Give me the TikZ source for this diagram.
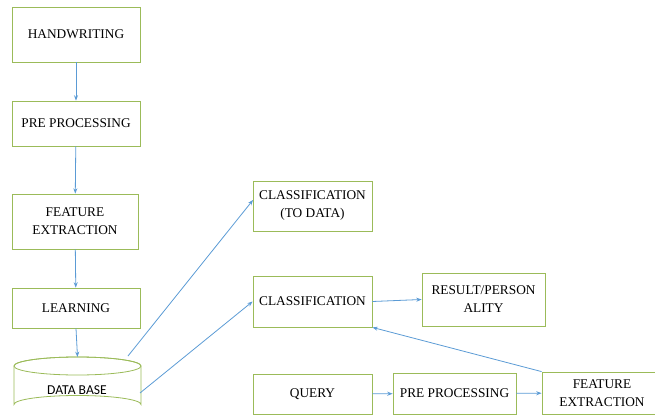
\documentclass[tikz,border=0pt]{standalone}
\usepackage{fontspec}
\setmainfont{Liberation Serif}
\newfontfamily\dbfont{Carlito}
\usetikzlibrary{arrows.meta,calc}
\definecolor{boxgreen}{RGB}{155,187,89}
\definecolor{flowblue}{RGB}{91,155,213}
\begin{document}
\begin{tikzpicture}[x=0.75pt,y=-0.75pt,
  stagebox/.style={draw=boxgreen,line width=0.6pt,fill=white,align=center,
    font=\fontsize{10}{13.5}\selectfont,inner sep=0pt},
  flow/.style={draw=flowblue,line width=0.6pt,-{Stealth[length=4pt,width=3pt]}}]
\useasboundingbox (0,0) rectangle (655,416);
\clip (0,0) rectangle (655,416);

% training pipeline (left column)
\node[stagebox,minimum width=128*0.75pt,minimum height=55*0.75pt] (hw) at (76,34.5) {HANDWRITING};
\node[stagebox,minimum width=128*0.75pt,minimum height=45*0.75pt] (pre) at (76,123.5) {PRE PROCESSING};
\node[stagebox,minimum width=126*0.75pt,minimum height=55*0.75pt] (fe) at (75,221.5) {FEATURE\\EXTRACTION};
\node[stagebox,minimum width=128*0.75pt,minimum height=40*0.75pt] (learn) at (76,308) {LEARNING};

% database cylinder
\node[inner sep=0pt,minimum width=127*0.75pt,minimum height=57*0.75pt] (db) at (77.5,385.5) {};
\draw[boxgreen,line width=0.6pt,fill=white]
  (14,366) -- (14,404.5) arc[start angle=180,end angle=360,x radius=63.5,y radius=9]
  -- (141,366) arc[start angle=0,end angle=-180,x radius=63.5,y radius=9];
\draw[boxgreen,line width=0.6pt] (77.5,366) ellipse[x radius=63.5,y radius=9];
\node[font=\dbfont\fontsize{10.2}{12}\selectfont] (dblabel) at (77,390) {DATA BASE};
\coordinate (dbtop) at (77.5,357);
\coordinate (dbrim) at (128,356);
\coordinate (dbside) at (140,393);

% classification and query side
\node[stagebox,minimum width=119*0.75pt,minimum height=50*0.75pt] (cls1) at (312.5,206) {CLASSIFICATION\\(TO DATA)};
\node[stagebox,minimum width=119*0.75pt,minimum height=51*0.75pt] (cls2) at (312.5,301.5) {CLASSIFICATION};
\node[stagebox,minimum width=123*0.75pt,minimum height=53*0.75pt] (res) at (483.5,299.5) {RESULT/PERSON\\ALITY};
\node[stagebox,minimum width=119*0.75pt,minimum height=40*0.75pt] (query) at (312.5,394) {QUERY};
\node[stagebox,minimum width=123*0.75pt,minimum height=41*0.75pt] (pre2) at (454.5,393.5) {PRE PROCESSING};
\node[stagebox,minimum width=120*0.75pt,minimum height=42*0.75pt] (fe2) at (602,393) {FEATURE\\EXTRACTION};

\coordinate (cls1in) at (253,200);

% connectors
\draw[flow] (hw) -- (pre);
\draw[flow] (pre) -- (fe);
\draw[flow] (fe) -- (learn);
\draw[flow] (learn.south) -- (dbtop);
\draw[flow] (dbrim) -- (cls1in);
\draw[flow] (dbside) -- (cls2.west);
\draw[flow] (cls2.east) -- (res.west);
\draw[flow] (fe2.north west) -- (cls2.south east);
\draw[flow] (query) -- (pre2);
\draw[flow] (pre2) -- (fe2);
\end{tikzpicture}
\end{document}
